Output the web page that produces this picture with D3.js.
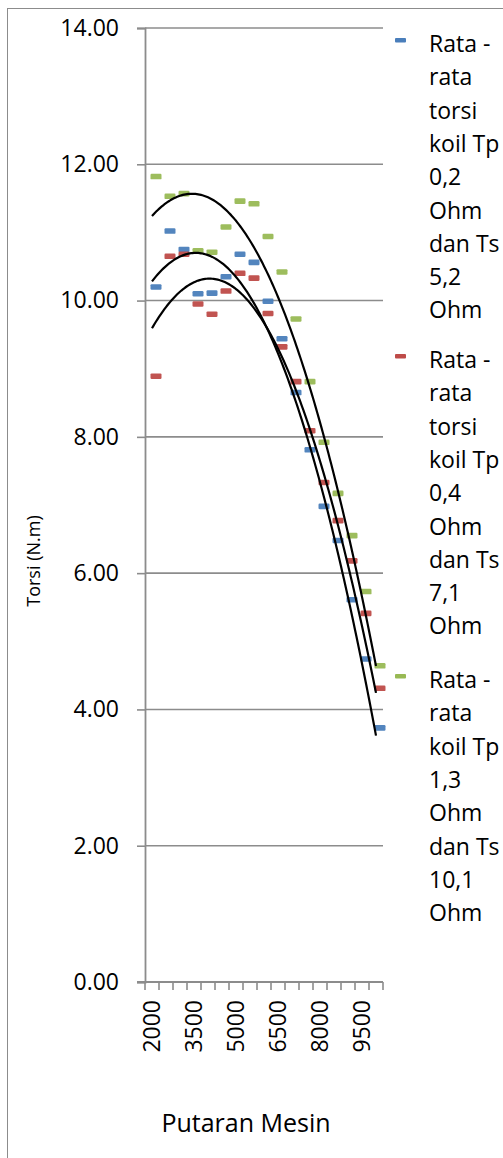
<!DOCTYPE html>
<html lang="en">
<head>
    <meta charset="UTF-8">
    <script src="https://d3js.org/d3.v7.min.js"></script>
    <title>Torsi vs Putaran Mesin</title>
    <style>
        body { margin: 0; background: #fff; }
        text { font-family: "Open Sans", "Liberation Sans", sans-serif; fill: #000; }
    </style>
</head>
<body>
    <svg id="chart" width="503" height="1158"></svg>
<script>
    // putaran mesin (rpm)
    const rpm = [2000, 2500, 3000, 3500, 4000, 4500, 5000, 5500, 6000, 6500, 7000, 7500, 8000, 8500, 9000, 9500, 10000];
    const rpmLabels = [2000, 3500, 5000, 6500, 8000, 9500];

    // rata-rata torsi (N.m)
    const torsiTp02 = [10.20, 11.02, 10.75, 10.10, 10.11, 10.35, 10.68, 10.56, 9.99, 9.44, 8.65, 7.81, 6.98, 6.48, 5.61, 4.74, 3.73];
    const torsiTp04 = [8.89, 10.65, 10.68, 9.95, 9.80, 10.14, 10.40, 10.33, 9.81, 9.32, 8.81, 8.09, 7.33, 6.77, 6.18, 5.41, 4.31];
    const torsiTp13 = [11.82, 11.53, 11.57, 10.73, 10.71, 11.08, 11.46, 11.42, 10.94, 10.42, 9.73, 8.81, 7.92, 7.17, 6.55, 5.73, 4.64];

    const yTicks = [0, 2, 4, 6, 8, 10, 12, 14];

    const seriesNames = [
        ["Rata -", "rata", "torsi", "koil Tp", "0,2", "Ohm", "dan Ts", "5,2", "Ohm"],
        ["Rata -", "rata", "torsi", "koil Tp", "0,4", "Ohm", "dan Ts", "7,1", "Ohm"],
        ["Rata -", "rata", "koil Tp", "1,3", "Ohm", "dan Ts", "10,1", "Ohm"]
    ];
    const seriesColors = ["#4a7ebb", "#be4b48", "#98b954"];
    const seriesData = [torsiTp02, torsiTp04, torsiTp13];

    const svg = d3.select("#chart");
    const gray = "#8c8c8c";

    // chart area border (only left/top visible)
    svg.append("rect")
        .attr("x", 7.5).attr("y", 8.5)
        .attr("width", 600).attr("height", 1300)
        .attr("fill", "none").attr("stroke", gray).attr("stroke-width", 1);

    const x = d3.scaleBand().domain(rpm).range([145, 383]);
    const y = d3.scaleLinear().domain([0, 14]).range([982, 28]);
    const cx = d => x(d) + x.bandwidth() / 2;

    // gridlines
    svg.append("g").selectAll("line").data(yTicks.filter(d => d > 0))
        .join("line")
        .attr("x1", 145).attr("x2", 383)
        .attr("y1", d => y(d)).attr("y2", d => y(d))
        .attr("stroke", gray).attr("stroke-width", 1.6);

    // y axis
    const yAxis = svg.append("g").attr("transform", "translate(145,0)")
        .call(d3.axisLeft(y).tickValues(yTicks).tickFormat(d3.format(".2f")).tickSize(8).tickPadding(18));
    yAxis.select(".domain").attr("stroke", gray).attr("stroke-width", 1.8);
    yAxis.selectAll(".tick line").attr("stroke", gray).attr("stroke-width", 1.6);
    yAxis.selectAll(".tick text").attr("font-size", 23).style("font-family", "Open Sans");

    // x axis
    const xAxis = svg.append("g").attr("transform", "translate(0,982)");
    xAxis.append("line").attr("x1", 137).attr("x2", 383).attr("stroke", gray).attr("stroke-width", 1.8);
    const bounds = rpm.map(d => x(d)).concat([x(rpm[rpm.length - 1]) + x.bandwidth()]);
    xAxis.selectAll("line.tk").data(bounds).join("line").attr("class", "tk")
        .attr("x1", d => d).attr("x2", d => d).attr("y1", 0).attr("y2", 8)
        .attr("stroke", gray).attr("stroke-width", 1.6);
    xAxis.selectAll("text").data(rpmLabels).join("text")
        .attr("transform", d => `translate(${cx(d) + 8},18) rotate(-90)`)
        .attr("text-anchor", "end")
        .attr("font-size", 23)
        .text(d => d);

    // polynomial (order 2) trendline, least squares on category index 1..n
    function quadFit(vals) {
        let s = [0, 0, 0, 0, 0], t = [0, 0, 0];
        vals.forEach((v, i) => {
            const k = i + 1;
            for (let p = 0; p < 5; p++) s[p] += Math.pow(k, p);
            for (let p = 0; p < 3; p++) t[p] += v * Math.pow(k, p);
        });
        const A = [[s[0], s[1], s[2], t[0]], [s[1], s[2], s[3], t[1]], [s[2], s[3], s[4], t[2]]];
        for (let c = 0; c < 3; c++) {
            for (let r = c + 1; r < 3; r++) {
                const f = A[r][c] / A[c][c];
                for (let j = c; j < 4; j++) A[r][j] -= f * A[c][j];
            }
        }
        const b = [0, 0, 0];
        for (let r = 2; r >= 0; r--) {
            let sum = A[r][3];
            for (let j = r + 1; j < 3; j++) sum -= A[r][j] * b[j];
            b[r] = sum / A[r][r];
        }
        return k => b[0] + b[1] * k + b[2] * k * k;
    }

    const kx = d3.scaleLinear().domain([1, rpm.length]).range([cx(rpm[0]), cx(rpm[rpm.length - 1])]);
    const line = d3.line().x(d => kx(d[0])).y(d => y(d[1]));

    // markers
    seriesData.forEach((vals, si) => {
        svg.append("g").selectAll("rect").data(vals)
            .join("rect")
            .attr("x", (d, i) => cx(rpm[i]) - 1.5)
            .attr("y", d => y(d) - 2.8)
            .attr("width", 11).attr("height", 5.6).attr("rx", 1.2)
            .attr("fill", seriesColors[si]).attr("fill-opacity", 0.95);
    });

    // trendlines
    seriesData.forEach(vals => {
        const f = quadFit(vals);
        const pts = d3.range(1, rpm.length + 0.001, 0.1).map(k => [k, f(k)]);
        svg.append("path").datum(pts)
            .attr("d", line)
            .attr("fill", "none").attr("stroke", "#000").attr("stroke-width", 2.2);
    });

    // axis titles
    svg.append("text")
        .attr("transform", "translate(40,561) rotate(-90)")
        .attr("text-anchor", "middle")
        .attr("font-size", 18)
        .text("Torsi (N.m)");
    svg.append("text")
        .attr("x", 246).attr("y", 1132)
        .attr("text-anchor", "middle")
        .attr("font-size", 25)
        .text("Putaran Mesin");

    // legend
    const legStarts = [52, 368, 688];
    const lineH = 33.3;
    seriesNames.forEach((lines, si) => {
        const g = svg.append("g");
        g.append("rect")
            .attr("x", 395).attr("y", legStarts[si] - 14)
            .attr("width", 11).attr("height", 4.5).attr("rx", 1)
            .attr("fill", seriesColors[si]);
        g.selectAll("text").data(lines).join("text")
            .attr("x", 429)
            .attr("y", (d, i) => legStarts[si] + i * lineH)
            .attr("font-size", 23)
            .text(d => d);
    });
</script>
</body>
</html>
